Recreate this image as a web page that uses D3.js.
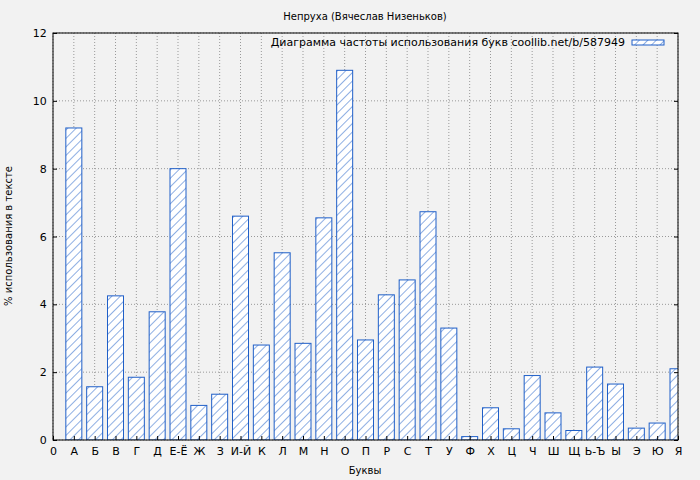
<!DOCTYPE html>
<html><head><meta charset="utf-8">
<script src="https://cdn.jsdelivr.net/npm/d3@7"></script>
<style>body{margin:0;background:#f2f2f2}</style></head>
<body><svg id="c" width="700" height="480"></svg>
<script>
const categories=["0","А","Б","В","Г","Д","Е-Ё","Ж","З","И-Й","К","Л","М","Н","О","П","Р","С","Т","У","Ф","Х","Ц","Ч","Ш","Щ","Ь-Ъ","Ы","Э","Ю","Я"];
const values=[null,9.2,1.57,4.25,1.85,3.78,8.0,1.02,1.35,6.6,2.8,5.52,2.85,6.55,10.9,2.95,4.28,4.72,6.73,3.3,0.1,0.95,0.33,1.9,0.8,0.28,2.15,1.65,0.35,0.5,2.1];
const yTicks=[0,2,4,6,8,10,12];
const title="Непруха (Вячеслав Низеньков)";
const legendText="Диаграмма частоты использования букв coollib.net/b/587949";
const svg=d3.select("#c");
const m={l:53,r:678,t:33,b:440};
const x=d3.scaleLinear().domain([0,30]).range([m.l,m.r]);
const y=d3.scaleLinear().domain([0,12]).range([m.b,m.t]);
const blue="#1f5fc8";
const defs=svg.append("defs");
const p=defs.append("pattern").attr("id","h").attr("patternUnits","userSpaceOnUse").attr("width",6).attr("height",6).attr("patternTransform","rotate(45)");
p.append("rect").attr("width",6).attr("height",6).attr("fill","#fff");
p.append("line").attr("x1",0).attr("y1",0).attr("x2",0).attr("y2",6).attr("stroke",blue).attr("stroke-width",1);
defs.append("clipPath").attr("id","cp").append("rect").attr("x",m.l).attr("y",m.t).attr("width",m.r-m.l).attr("height",m.b-m.t);
svg.append("rect").attr("x",m.l).attr("y",m.t).attr("width",m.r-m.l).attr("height",m.b-m.t).attr("fill","#f2f2f2");
const g=svg.append("g");
categories.forEach((c,i)=>g.append("line").attr("x1",x(i)).attr("x2",x(i)).attr("y1",m.t).attr("y2",m.b).attr("stroke","#999").attr("stroke-dasharray","1,2"));
yTicks.forEach(v=>g.append("line").attr("x1",m.l).attr("x2",m.r).attr("y1",y(v)).attr("y2",y(v)).attr("stroke","#999").attr("stroke-dasharray","1,2"));
const bw=16;
svg.append("g").attr("clip-path","url(#cp)").selectAll("rect").data(values.map((v,i)=>({v,i})).filter(d=>d.v!=null)).join("rect")
 .attr("x",d=>x(d.i)-bw/2).attr("y",d=>y(d.v)).attr("width",bw).attr("height",d=>y(0)-y(d.v))
 .attr("fill","url(#h)").attr("stroke",blue).attr("stroke-width",1);
svg.append("rect").attr("x",m.l).attr("y",m.t).attr("width",m.r-m.l).attr("height",m.b-m.t).attr("fill","none").attr("stroke","#000");
const xa=svg.append("g").attr("transform",`translate(0,${m.b})`).call(d3.axisBottom(x).tickValues(d3.range(31)).tickFormat(i=>categories[i]).tickSizeInner(-4).tickSizeOuter(0));
const ya=svg.append("g").attr("transform",`translate(${m.l},0)`).call(d3.axisLeft(y).tickValues(yTicks).tickSizeInner(-4).tickSizeOuter(0));
[xa,ya].forEach(a=>{a.select(".domain").remove();a.selectAll("text").attr("font-family","DejaVu Sans").attr("font-size",11).attr("fill","#000");});
xa.selectAll("text").attr("dy","1.1em");
ya.selectAll("text").attr("dx","-0.3em");
svg.append("g").attr("transform",`translate(${m.r},0)`).call(d3.axisRight(y).tickValues(yTicks).tickSizeInner(-4).tickFormat("")).select(".domain").remove();
const T=(t,xx,yy,s,rot)=>svg.append("text").text(t).attr("x",xx).attr("y",yy).attr("font-family","DejaVu Sans").attr("font-size",s).attr("text-anchor","middle").attr("transform",rot?`rotate(-90,${xx},${yy})`:null);
T(title,365,20,10);
T("Буквы",365,474,10);
T("% использования в тексте",12,236,10,true);
svg.append("text").text(legendText).attr("x",625).attr("y",46).attr("text-anchor","end").attr("font-family","DejaVu Sans").attr("font-size",11);
svg.append("rect").attr("x",632).attr("y",40).attr("width",32).attr("height",5).attr("fill","url(#h)").attr("stroke",blue);
</script></body></html>
